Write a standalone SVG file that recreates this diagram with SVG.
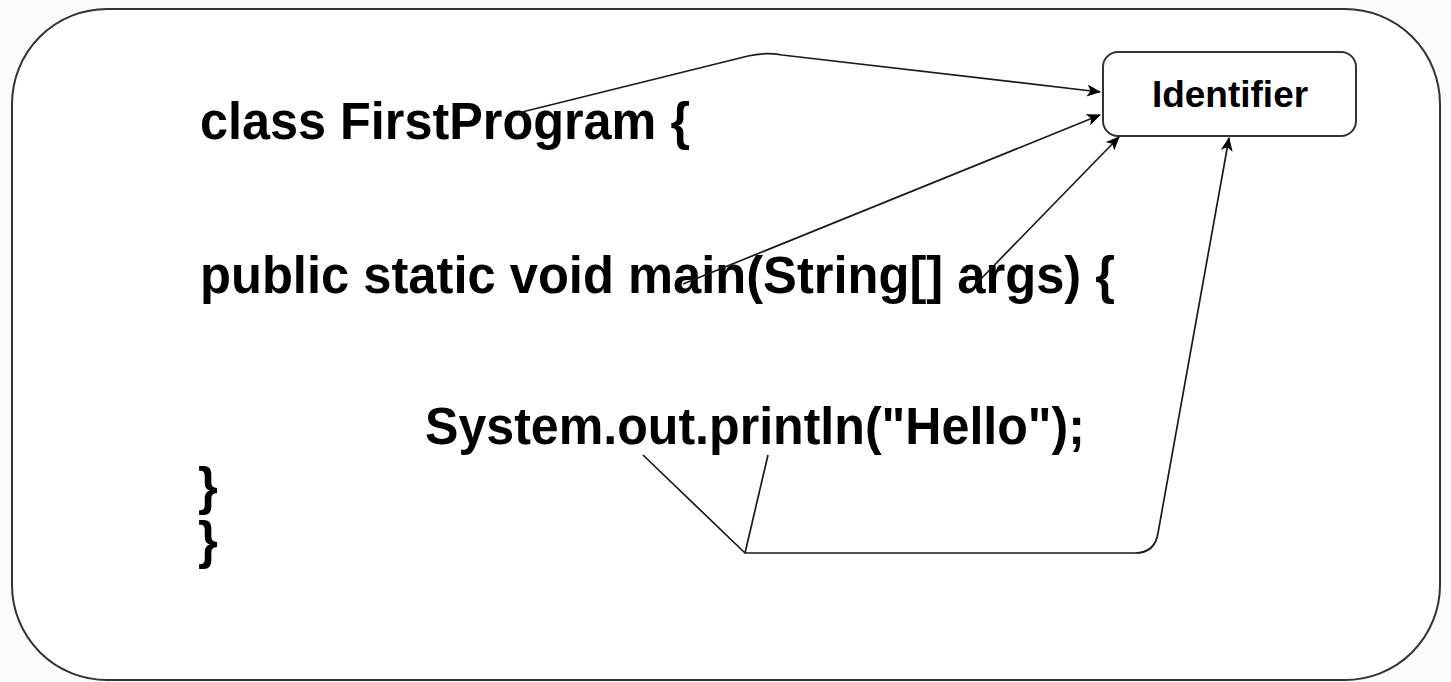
<svg xmlns="http://www.w3.org/2000/svg" width="1451" height="682" viewBox="0 0 1451 682">
  <style>
    .code { font-family: "Liberation Sans", Arial, sans-serif; font-weight: bold; font-size: 51px; fill: #000; }
    .label { font-family: "Liberation Sans", Arial, sans-serif; font-weight: bold; font-size: 37px; fill: #000; text-anchor: middle; }
    .frame { fill: #fff; stroke: #333; stroke-width: 2; }
    .link { fill: none; stroke: #1a1a1a; stroke-width: 1.7; stroke-linejoin: round; }
  </style>
  <defs>
    <marker id="arrow" viewBox="0 0 14 12" refX="13" refY="6" markerWidth="14" markerHeight="12" markerUnits="userSpaceOnUse" orient="auto">
      <path d="M0,0 L14,6 L0,12 L3.5,6 Z" fill="#000"/>
    </marker>
  </defs>

  <rect x="0" y="0" width="1451" height="682" fill="#fbfbfb"/>

  <!-- outer frame holding the source code -->
  <g id="frame">
    <rect class="frame" x="12" y="9" width="1428" height="671" rx="95" ry="95"/>
  </g>

  <!-- source code lines -->
  <g id="code">
    <text class="code" x="200" y="139" textLength="490" lengthAdjust="spacingAndGlyphs">class FirstProgram {</text>
    <text class="code" x="200" y="293" textLength="915" lengthAdjust="spacingAndGlyphs">public static void main(String[] args) {</text>
    <text class="code" x="425" y="444" textLength="660" lengthAdjust="spacingAndGlyphs">System.out.println("Hello");</text>
    <text class="code" x="198" y="504">}</text>
    <text class="code" x="198" y="558">}</text>
  </g>

  <!-- identifier label box -->
  <g id="identifier">
    <rect class="frame" x="1103" y="52" width="253" height="84" rx="15" ry="15"/>
    <text class="label" x="1230" y="107">Identifier</text>
  </g>

  <!-- connectors -->
  <g id="connectors">
    <path class="link" d="M518,113 L748,56 Q765,52 782,55 L1100,92" marker-end="url(#arrow)"/>
    <path class="link" d="M683,284 L1100,115" marker-end="url(#arrow)"/>
    <path class="link" d="M975,285 L1119,137" marker-end="url(#arrow)"/>
    <path class="link" d="M643,455 L745,553 L768,455"/>
    <path class="link" d="M745,553 L1135,553 Q1155,553 1158,533 L1229,138" marker-end="url(#arrow)"/>
  </g>
</svg>
